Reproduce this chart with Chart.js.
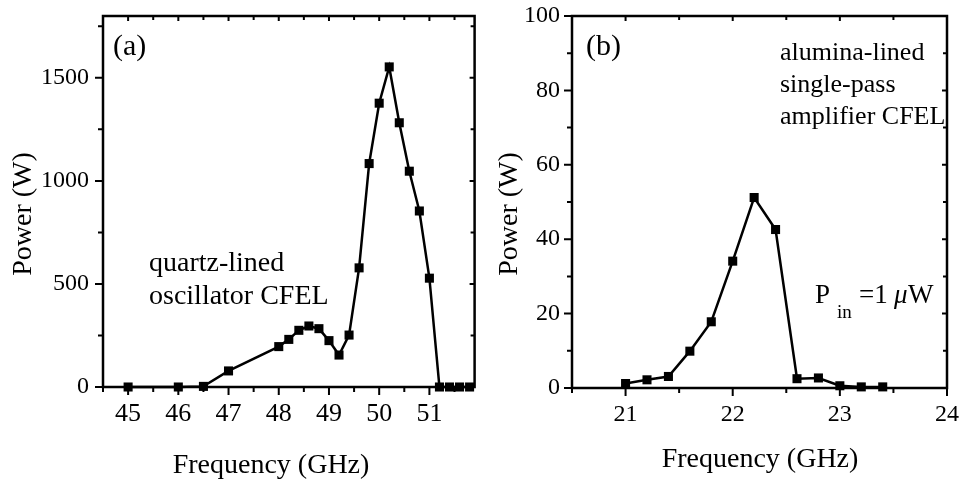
<!DOCTYPE html>
<html>
<head>
<meta charset="utf-8">
<script src="https://cdn.jsdelivr.net/npm/chart.js@4.4.1/dist/chart.umd.min.js"></script>
<style>
html, body { margin: 0; padding: 0; background: #fff; }
#wrap { position: relative; width: 962px; height: 483px; overflow: hidden; }
canvas { position: absolute; top: 0; }
</style>
</head>
<body>
<div id="wrap">
  <canvas id="chartA" width="481" height="483" style="left:0"></canvas>
  <canvas id="chartB" width="481" height="483" style="left:481px"></canvas>
</div>
<script>
// (a) quartz-lined oscillator
var freqA  = [45, 46, 46.5, 47, 48, 48.2, 48.4, 48.6, 48.8, 49, 49.2, 49.4, 49.6, 49.8, 50, 50.2, 50.4, 50.6, 50.8, 51, 51.2, 51.4, 51.6, 51.8];
var powerA = [0, 0, 3, 78, 196, 231, 275, 296, 283, 225, 155, 252, 578, 1084, 1377, 1553, 1282, 1047, 854, 528, 0, 0, 0, 0];
var xLabelsA = [45, 46, 47, 48, 49, 50, 51];
var xMinorA  = [44.5, 45.5, 46.5, 47.5, 48.5, 49.5, 50.5, 51.5];
var yLabelsA = [0, 500, 1000, 1500];
var yMinorA  = [250, 750, 1250, 1750];

// (b) alumina-lined single-pass amplifier
var freqB  = [21, 21.2, 21.4, 21.6, 21.8, 22, 22.2, 22.4, 22.6, 22.8, 23, 23.2, 23.4];
var powerB = [1.2, 2.2, 3.1, 9.9, 17.8, 34.1, 51.2, 42.6, 2.5, 2.7, 0.6, 0.3, 0.3];
var xLabelsB = [21, 22, 23, 24];
var xMinorB  = [20.5, 21.5, 22.5, 23.5];
var yLabelsB = [0, 20, 40, 60, 80, 100];
var yMinorB  = [10, 30, 50, 70, 90];

var SERIF = '"Liberation Serif", "Times New Roman", serif';

function toPoints(xs, ys) {
    return xs.map(function (x, i) { return {x: x, y: ys[i]}; });
}

function tickList(major, minor) {
    return major.concat(minor).sort(function (a, b) { return a - b; })
        .map(function (v) { return {value: v}; });
}

// frame, mirrored tick marks and the text labels
function makeFrame(cfg) {
    return {
        id: 'frame',
        afterDraw: function (chart) {
            var ctx = chart.ctx;
            var a = chart.chartArea;
            var xs = chart.scales.x, ys = chart.scales.y;
            ctx.save();
            ctx.strokeStyle = '#000';
            ctx.lineWidth = 2;
            ctx.beginPath();
            xs.ticks.forEach(function (t) {
                var px = xs.getPixelForValue(t.value);
                var big = cfg.xMajor.indexOf(t.value) >= 0;
                ctx.moveTo(px, a.bottom); ctx.lineTo(px, a.bottom + (big ? 8 : 5));
                ctx.moveTo(px, a.top); ctx.lineTo(px, a.top + (big ? 5 : 4));
            });
            ys.ticks.forEach(function (t) {
                var py = ys.getPixelForValue(t.value);
                var big = cfg.yMajor.indexOf(t.value) >= 0;
                ctx.moveTo(a.left, py); ctx.lineTo(a.left - (big ? 8 : 5), py);
                ctx.moveTo(a.right, py); ctx.lineTo(a.right - (big ? 5 : 4), py);
            });
            ctx.stroke();
            ctx.lineWidth = 2.5;
            ctx.strokeRect(a.left, a.top, a.right - a.left, a.bottom - a.top);

            ctx.fillStyle = '#000';
            ctx.textBaseline = 'alphabetic';
            ctx.textAlign = 'left';
            cfg.texts.forEach(function (t) {
                ctx.font = (t.italic ? 'italic ' : '') + t.size + 'px ' + SERIF;
                ctx.fillText(t.text, t.x, t.y);
            });

            // axis titles
            ctx.font = '28px ' + SERIF;
            ctx.textAlign = 'center';
            ctx.fillText('Frequency (GHz)', cfg.xTitle[0], cfg.xTitle[1]);
            ctx.save();
            ctx.translate(cfg.yTitle[0], cfg.yTitle[1]);
            ctx.rotate(-Math.PI / 2);
            ctx.textBaseline = 'middle';
            ctx.fillText('Power (W)', 0, 0);
            ctx.restore();
            ctx.restore();
        }
    };
}

function buildChart(id, xs, ys, sc, frame) {
    var pad = {left: 0, top: sc.area.top, right: 481 - sc.area.right, bottom: 0};
    var chart = new Chart(document.getElementById(id), {
        type: 'scatter',
        data: {
            datasets: [{
                data: toPoints(xs, ys),
                showLine: true,
                borderColor: '#000',
                borderWidth: 2.5,
                backgroundColor: '#000',
                pointStyle: 'rect',
                pointRadius: 6.4,
                pointBorderWidth: 0,
                pointBackgroundColor: '#000',
                tension: 0,
                clip: false
            }]
        },
        options: {
            responsive: false,
            animation: false,
            devicePixelRatio: 1,
            layout: {padding: pad},
            plugins: {legend: {display: false}, tooltip: {enabled: false}},
            scales: {
                x: {
                    type: 'linear',
                    min: sc.xMin, max: sc.xMax,
                    grid: {display: false, drawTicks: false},
                    border: {display: false},
                    afterBuildTicks: function (s) { s.ticks = tickList(sc.xMajor, sc.xMinor); },
                    afterFit: function (s) {
                        s.height = 483 - sc.area.bottom;
                        s.paddingLeft = 0; s.paddingRight = 0;
                    },
                    ticks: {
                        autoSkip: false,
                        maxRotation: 0,
                        padding: 12,
                        color: '#000',
                        font: {family: SERIF, size: sc.xFont},
                        callback: function (v) { return sc.xMajor.indexOf(v) >= 0 ? String(v) : ''; }
                    }
                },
                y: {
                    min: 0, max: sc.yMax,
                    grid: {display: false, drawTicks: false},
                    border: {display: false},
                    afterBuildTicks: function (s) { s.ticks = tickList(sc.yMajor, sc.yMinor); },
                    afterFit: function (s) {
                        s.width = sc.area.left;
                        s.paddingTop = 0; s.paddingBottom = 0;
                    },
                    ticks: {
                        autoSkip: false,
                        padding: sc.yPad,
                        color: '#000',
                        font: {family: SERIF, size: 24},
                        callback: function (v) { return sc.yMajor.indexOf(v) >= 0 ? String(v) : ''; }
                    }
                }
            }
        },
        plugins: [frame]
    });

    // nudge the layout padding until the plot box sits where the reference has it
    for (var k = 0; k < 3; k++) {
        var a = chart.chartArea;
        pad = {
            left: pad.left + (sc.area.left - a.left),
            top: pad.top + (sc.area.top - a.top),
            right: pad.right + (a.right - sc.area.right),
            bottom: pad.bottom + (a.bottom - sc.area.bottom)
        };
        chart.config.options.layout.padding = pad;
        chart.update();
    }
    return chart;
}

buildChart('chartA', freqA, powerA,
    {xMin: 44.5, xMax: 51.9, yMax: 1800,
     xMajor: xLabelsA, xMinor: xMinorA, yMajor: yLabelsA, yMinor: yMinorA,
     area: {left: 103, top: 16, right: 478, bottom: 387}, yPad: 14, xFont: 26},
    makeFrame({
        xMajor: xLabelsA, yMajor: yLabelsA,
        xTitle: [271, 473], yTitle: [24, 214],
        texts: [
            {text: '(a)', x: 113, y: 55, size: 30},
            {text: 'quartz-lined', x: 149, y: 271, size: 28},
            {text: 'oscillator CFEL', x: 149, y: 304, size: 28}
        ]
    }));

buildChart('chartB', freqB, powerB,
    {xMin: 20.5, xMax: 24, yMax: 100,
     xMajor: xLabelsB, xMinor: xMinorB, yMajor: yLabelsB, yMinor: yMinorB,
     area: {left: 91, top: 16, right: 466, bottom: 388}, yPad: 12, xFont: 24},
    makeFrame({
        xMajor: xLabelsB, yMajor: yLabelsB,
        xTitle: [279, 467], yTitle: [29, 214],
        texts: [
            {text: '(b)', x: 105, y: 55, size: 30},
            {text: 'alumina-lined', x: 299, y: 60, size: 26},
            {text: 'single-pass', x: 299, y: 92, size: 26},
            {text: 'amplifier CFEL', x: 299, y: 124, size: 26},
            {text: 'P', x: 334, y: 303, size: 27},
            {text: 'in', x: 356, y: 318, size: 19},
            {text: '=1', x: 378, y: 303, size: 27},
            {text: '\u03bc', x: 413, y: 303, size: 27, italic: true},
            {text: 'W', x: 427, y: 303, size: 27}
        ]
    }));
</script>
</body>
</html>
